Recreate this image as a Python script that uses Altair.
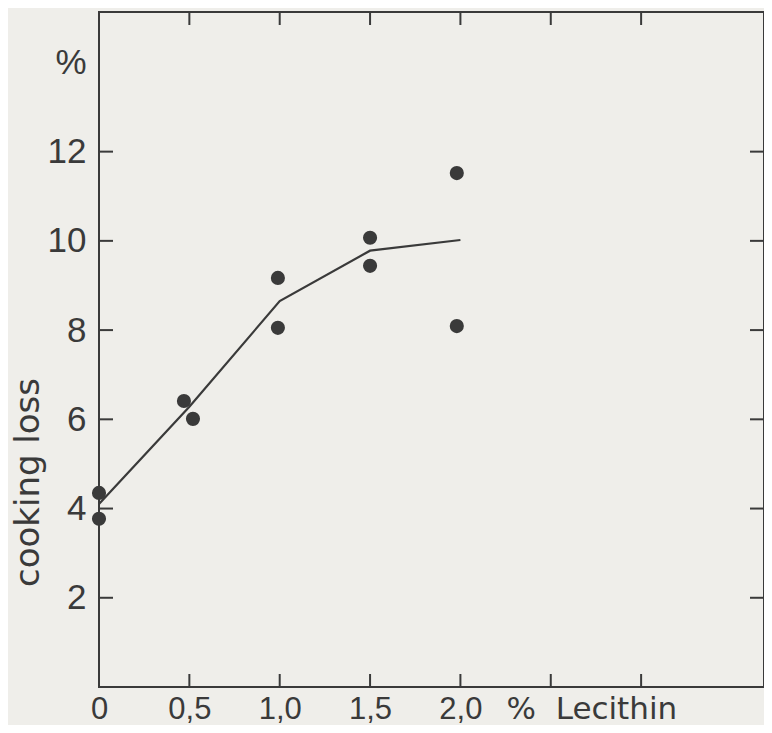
import altair as alt
import pandas as pd

# measured data (lecithin %, cooking loss %)
pt_x = [0.0, 0.0, 0.47, 0.52, 0.99, 0.99, 1.50, 1.50, 1.98, 1.98]
pt_y = [4.35, 3.77, 6.41, 6.01, 9.17, 8.05, 10.07, 9.44, 11.52, 8.09]
line_x = [0.0, 0.5, 1.0, 1.5, 2.0]
line_y = [4.1, 6.28, 8.65, 9.78, 10.02]
x_label_vals = [0, 0.5, 1.0, 1.5, 2.0]
x_tick_vals = [0.5, 1.0, 1.5, 2.0, 2.5, 3.0]
y_tick_vals = [2, 4, 6, 8, 10, 12]
y_label_vals = [2, 4, 6, 8, 10, 12, 14]

W, H = 665, 675
INK = "#3a3a3a"
FONT = "Liberation Sans"
TFONT = "DejaVu Sans"

pts = pd.DataFrame({"x": pt_x, "y": pt_y})
ln = pd.DataFrame({"x": line_x, "y": line_y})
xt = pd.DataFrame({"v": x_tick_vals})
yt = pd.DataFrame({"v": y_tick_vals})

xscale = alt.Scale(domain=[0, 3.68], nice=False, zero=False)
yscale = alt.Scale(domain=[0, 15.13], nice=False, zero=False)

xaxis = alt.Axis(
    values=x_label_vals, ticks=False, domain=False, grid=False,
    labelExpr="datum.value == 0 ? '0' : replace(format(datum.value, '.1f'), '.', ',')",
    labelFontSize=31, labelPadding=7, labelColor=INK, labelFont=FONT,
    title="%\u00a0\u00a0Lecithin", titleX=407, titleY=31, titleAlign="left",
    titleBaseline="alphabetic", titleFontSize=31, titleFontWeight="normal",
    titleColor=INK, titleFont=TFONT, labelFlush=False,
)
yaxis = alt.Axis(
    values=y_label_vals, ticks=False, domain=False, grid=False,
    labelExpr="datum.value == 14 ? '%' : datum.label",
    labelFontSize=35, labelPadding=13, labelColor=INK, labelFont=FONT,
    title="cooking loss", titleAngle=270, titleX=-61, titleY=470,
    titleAlign="center", titleBaseline="alphabetic", titleFontSize=34,
    titleFontWeight="normal", titleColor=INK, titleFont=TFONT, labelFlush=False,
)

points = alt.Chart(pts).mark_circle(size=200, color=INK, opacity=1).encode(
    x=alt.X("x:Q", scale=xscale, axis=xaxis),
    y=alt.Y("y:Q", scale=yscale, axis=yaxis),
)
line = alt.Chart(ln).mark_line(color=INK, strokeWidth=2.2).encode(
    x=alt.X("x:Q", scale=xscale),
    y=alt.Y("y:Q", scale=yscale),
)
tick_style = dict(color=INK, strokeWidth=2)
left_t = alt.Chart(yt).mark_rule(**tick_style).encode(
    y=alt.Y("v:Q", scale=yscale), x=alt.value(0), x2=alt.value(14))
right_t = alt.Chart(yt).mark_rule(**tick_style).encode(
    y=alt.Y("v:Q", scale=yscale), x=alt.value(W - 14), x2=alt.value(W))
bottom_t = alt.Chart(xt).mark_rule(**tick_style).encode(
    x=alt.X("v:Q", scale=xscale), y=alt.value(H - 13), y2=alt.value(H))
top_t = alt.Chart(xt).mark_rule(**tick_style).encode(
    x=alt.X("v:Q", scale=xscale), y=alt.value(0), y2=alt.value(13))

chart = alt.layer(line, points, left_t, right_t, bottom_t, top_t).properties(
    width=W, height=H,
    autosize=alt.AutoSizeParams(type="none"),
    padding={"left": 91, "top": 4, "right": 0, "bottom": 38},
    background="#efeeea",
).configure_view(stroke=INK, strokeWidth=2)

chart.save("out.html", embed_options={"renderer": "svg", "actions": False})
